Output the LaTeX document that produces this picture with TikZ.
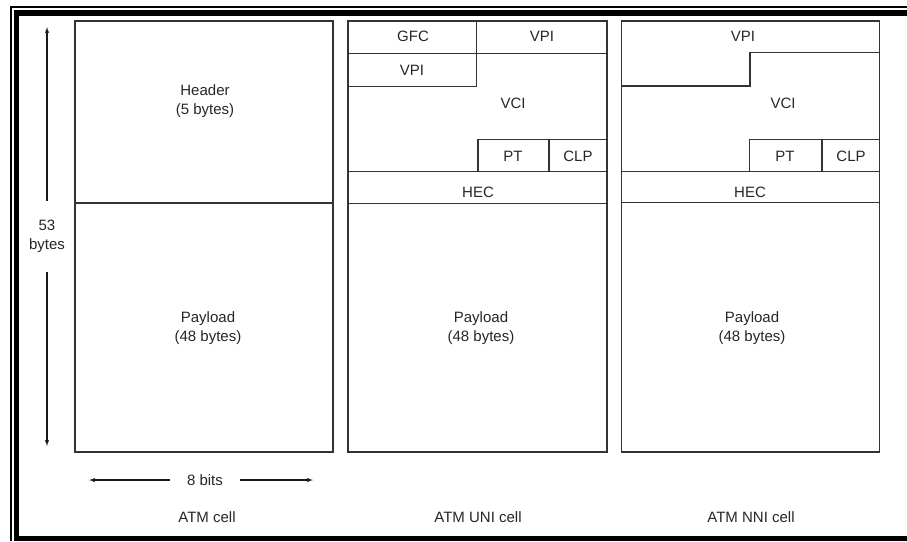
\documentclass[tikz,border=0pt]{standalone}
\usepackage{fontspec}
\setmainfont{Liberation Sans}
\usetikzlibrary{arrows}

\begin{document}
\begin{tikzpicture}
                [
                x=1pt,y=-1pt,
                cell/.style={line width=1.4pt,draw=black!80},
                label/.style={font=\fontsize{15}{19}\selectfont,text=black!85,align=center,inner sep=0pt},
                edge/.style={->,> = latex',line width=1.1pt,black!90}
                ]
            \useasboundingbox (0,0) rectangle (907,541);
            % frame
            \draw[line width=2pt] (11,541) -- (11,6.5) -- (907,6.5);
            \draw[line width=5.5pt] (907,12.8) -- (16.5,12.8) -- (16.5,538.5) -- (907,538.5);
            % ATM cell
            \draw[cell] (75,21) rectangle (333,452);
            \draw[cell] (75,203) -- (333,203);
            \node[label] (hdr) at (205,101) {Header\\(5 bytes)};
            \node[label] (pay1) at (208,328) {Payload\\(48 bytes)};
            % ATM UNI cell
            \draw[cell] (348,21) rectangle (607,452);
            \draw[cell] (348,53.3) -- (607,53.3);
            \draw[cell] (476.7,21) -- (476.7,86.7) -- (348,86.7);
            \draw[cell] (478,171.7) -- (478,139.3) -- (607,139.3);
            \draw[cell] (549,139.3) -- (549,171.7);
            \draw[cell] (348,171.7) -- (607,171.7);
            \draw[cell] (348,203.3) -- (607,203.3);
            \node[label] (gfc) at (413,36) {GFC};
            \node[label] (vpi1) at (542,36) {VPI};
            \node[label] (vpi2) at (412,70) {VPI};
            \node[label] (vci1) at (513,103) {VCI};
            \node[label] (pt1) at (513,156) {PT};
            \node[label] (clp1) at (578,156) {CLP};
            \node[label] (hec1) at (478,192) {HEC};
            \node[label] (pay2) at (481,328) {Payload\\(48 bytes)};
            % ATM NNI cell
            \draw[cell] (621.5,21) rectangle (879.5,452);
            \draw[cell] (621.5,86) -- (750,86) -- (750,52.3) -- (879.5,52.3);
            \draw[cell] (749.3,171.5) -- (749.3,139.3) -- (879.5,139.3);
            \draw[cell,line width=2.2pt] (821.7,139.3) -- (821.7,171.5);
            \draw[cell] (621.5,171.5) -- (879.5,171.5);
            \draw[cell] (621.5,202.7) -- (879.5,202.7);
            \node[label] (vpi3) at (743,36) {VPI};
            \node[label] (vci2) at (783,103) {VCI};
            \node[label] (pt2) at (785,156) {PT};
            \node[label] (clp2) at (851,156) {CLP};
            \node[label] (hec2) at (750,192) {HEC};
            \node[label] (pay3) at (752,328) {Payload\\(48 bytes)};
            % dimensions
            \node[label,minimum height=71pt] (bytes) at (47,236.5) {53\\bytes};
            \coordinate (btop) at (47,27);
            \coordinate (bbot) at (47,446);
            \draw[edge] (bytes) -- (btop);
            \draw[edge] (bytes) -- (bbot);
            \node[label,minimum width=70pt] (bits) at (205,480) {8 bits};
            \coordinate (bleft) at (89,480);
            \coordinate (bright) at (313,480);
            \draw[edge] (bits) -- (bleft);
            \draw[edge] (bits) -- (bright);
            % captions
            \node[label] (cap1) at (207,517) {ATM cell};
            \node[label] (cap2) at (478,517) {ATM UNI cell};
            \node[label] (cap3) at (751,517) {ATM NNI cell};
            \end{tikzpicture}
\end{document}
